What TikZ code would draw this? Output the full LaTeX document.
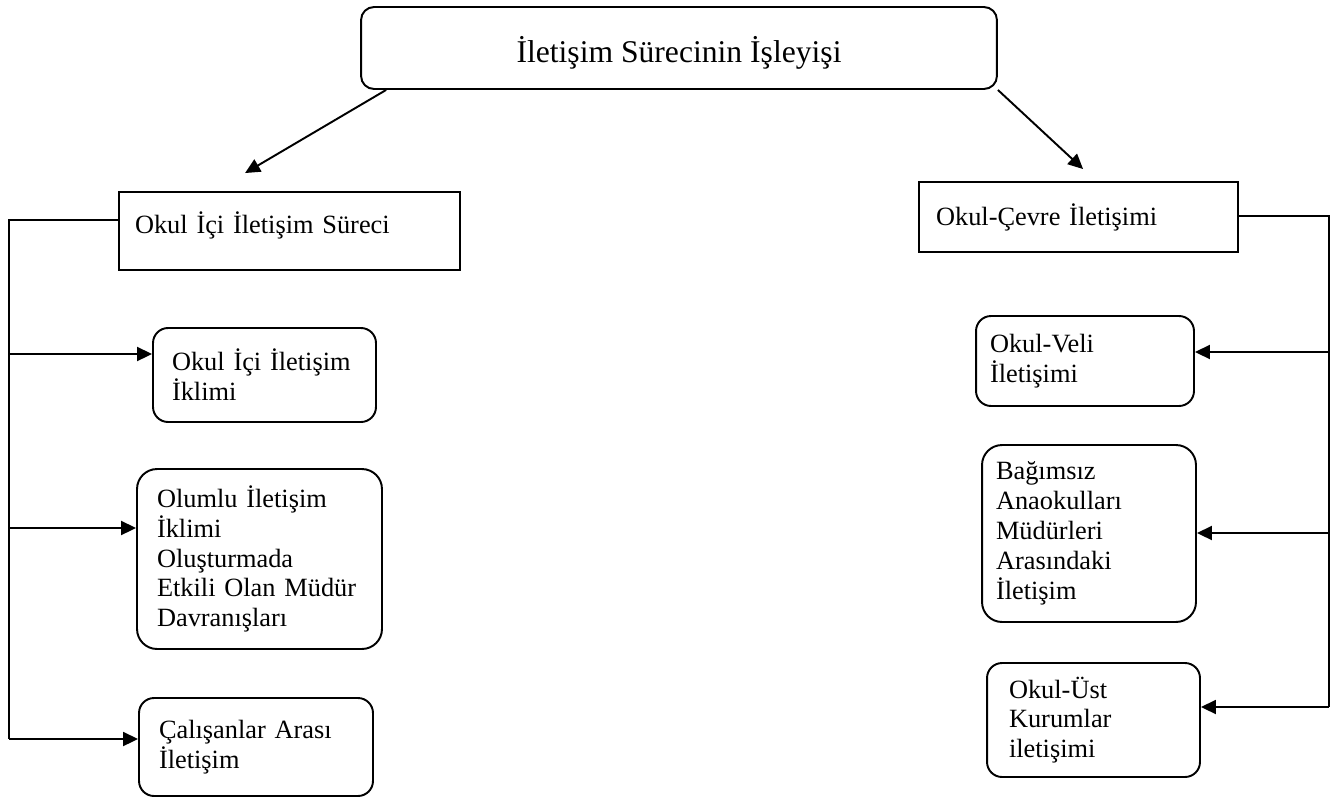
\documentclass[tikz,border=0pt]{standalone}
\usepackage{fontspec}
\setmainfont{Liberation Serif}
\usetikzlibrary{arrows.meta}
\usetikzlibrary{calc}

\tikzset{
        boxbase/.style={draw, line width=1.1pt, align=left, font=\fontsize{15}{17}\selectfont},
        sharpbox/.style={boxbase},
        roundbox/.style={boxbase, rounded corners=0.3cm},
        link/.style={line width=1.1pt, -{Triangle[length=0.3cm, width=0.28cm]}},
        trunk/.style={line width=1.1pt}
}

\begin{document}
\begin{tikzpicture}[x=0.02cm, y=-0.02cm]
        \useasboundingbox (0,0) rectangle (1334,798);
        \node[boxbase, rounded corners=0.26cm, align=center, font=\fontsize{18}{21}\selectfont, minimum width=12.72cm, minimum height=1.64cm, text height=0.7cm, text depth=0.1cm](title) at (679,48) {İletişim Sürecinin İşleyişi};
        \node[sharpbox, minimum width=6.82cm, minimum height=1.56cm, inner xsep=0.32cm, text width=6.18cm, text height=0.35cm, text depth=0.27cm](ici) at (289.5,231) {Okul İçi İletişim Süreci};
        \node[sharpbox, minimum width=6.38cm, minimum height=1.4cm, inner xsep=0.34cm, text width=5.7cm](cevre) at (1078.5,217) {Okul-Çevre İletişimi};
        \node[roundbox, minimum width=4.46cm, minimum height=1.88cm, inner xsep=0.38cm, text width=3.7cm](iklim) at (264.5,375) {Okul İçi İletişim\\İklimi};
        \node[roundbox, rounded corners=0.4cm, minimum width=4.9cm, minimum height=3.6cm, inner xsep=0.4cm, text width=4.1cm](olumlu) at (259.5,559) {Olumlu İletişim\\İklimi\\Oluşturmada\\Etkili Olan Müdür\\Davranışları};
        \node[roundbox, minimum width=4.68cm, minimum height=1.96cm, inner xsep=0.4cm, text width=3.88cm](calisan) at (256,747) {Çalışanlar Arası\\İletişim};
        \node[roundbox, minimum width=4.36cm, minimum height=1.8cm, inner xsep=0.28cm, text width=3.8cm](veli) at (1085,361) {Okul-Veli\\İletişimi};
        \node[roundbox, rounded corners=0.4cm, minimum width=4.28cm, minimum height=3.54cm, inner xsep=0.28cm, text width=3.72cm](bagimsiz) at (1089,533.5) {Bağımsız\\Anaokulları\\Müdürleri\\Arasındaki\\İletişim};
        \node[roundbox, minimum width=4.26cm, minimum height=2.28cm, inner xsep=0.44cm, text width=3.38cm](ust) at (1093.5,720) {Okul-Üst\\Kurumlar\\iletişimi};
        \coordinate (ici-in) at ($(ici.north west)+(127,-18)$);
        \coordinate (cevre-in) at ($(cevre.north west)+(165,-12)$);
        \draw[link] ($(title.south west)+(26,0)$) -- (ici-in);
        \draw[link] (title.south east) -- (cevre-in);
        \coordinate (lt1) at (9,354);
        \coordinate (lt2) at (9,528);
        \coordinate (lt3) at (9,739);
        \draw[trunk] ($(ici.west)+(0,-11)$) -| (lt3);
        \draw[link] (lt1) -- (lt1 -| iklim.west);
        \draw[link] (lt2) -- (lt2 -| olumlu.west);
        \draw[link] (lt3) -- (lt3 -| calisan.west);
        \coordinate (rt1) at (1329,352);
        \coordinate (rt2) at (1329,533);
        \coordinate (rt3) at (1329,707);
        \draw[trunk] ($(cevre.east)+(0,-1)$) -| (rt3);
        \draw[link] (rt1) -- (rt1 -| veli.east);
        \draw[link] (rt2) -- (rt2 -| bagimsiz.east);
        \draw[link] (rt3) -- (rt3 -| ust.east);
\end{tikzpicture}
\end{document}
